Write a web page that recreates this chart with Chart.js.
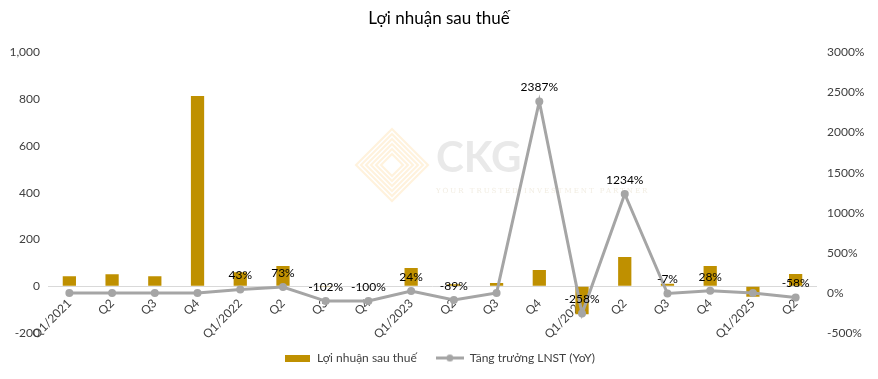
<!DOCTYPE html>
<html>
<head>
<meta charset="utf-8">
<script src="https://cdn.jsdelivr.net/npm/chart.js@4/dist/chart.umd.min.js"></script>
<style>
  html, body { margin:0; padding:0; background:#fff; }
  #wrap { width:878px; height:379px; }
</style>
</head>
<body>
<div id="wrap"><canvas id="myChart"></canvas></div>
<script>
var quarters = ['Q1/2021','Q2','Q3','Q4','Q1/2022','Q2','Q3','Q4','Q1/2023','Q2','Q3','Q4','Q1/2024','Q2','Q3','Q4','Q1/2025','Q2'];
var profit = [43, 51, 43, 814, 60, 86, -1, 2, 78, 8, 14, 69, -120, 125, 11, 86, -45, 52];
var growth = [0, 0, 0, 0, 43, 73, -102, -100, 24, -89, 0, 2387, -258, 1234, -7, 28, 0, -58];
var growthLabels = [null, null, null, null, '43%', '73%', '-102%', '-100%', '24%', '-89%', null, '2387%', '-258%', '1234%', '-7%', '28%', null, '-58%'];

var gold = '#BF9000';
var grey = '#A5A5A5';
var fontName = 'Lato, "Open Sans", sans-serif';

// legend markers
function markerBar(){
	var c = document.createElement('canvas'); c.width = 25; c.height = 7;
	var g = c.getContext('2d'); g.fillStyle = gold; g.fillRect(0,0,25,7);
	return c;
}
function markerLine(){
	var c = document.createElement('canvas'); c.width = 28; c.height = 9;
	var g = c.getContext('2d');
	g.strokeStyle = grey; g.lineWidth = 3;
	g.beginPath(); g.moveTo(0,4.5); g.lineTo(28,4.5); g.stroke();
	g.fillStyle = grey; g.beginPath(); g.arc(14,4.5,3.5,0,Math.PI*2); g.fill();
	return c;
}

var pointLabels = {
	id:'pointLabels',
	afterDatasetsDraw:function(chart){
		var meta = chart.getDatasetMeta(1);
		var ctx = chart.ctx;
		ctx.save();
		ctx.font = '12px ' + fontName;
		ctx.fillStyle = '#000';
		ctx.textAlign = 'center';
		ctx.textBaseline = 'middle';
		meta.data.forEach(function(pt, i){
			if(growthLabels[i]) ctx.fillText(growthLabels[i], pt.x, pt.y - 14);
		});
		ctx.restore();
	}
};

var watermark = {
	id:'watermark',
	beforeDatasetsDraw:function(chart){
		var ctx = chart.ctx;
		ctx.save();
		// faint diamond logo
		ctx.strokeStyle = 'rgba(255,210,130,0.28)';
		ctx.lineWidth = 2;
		for(var k=0;k<6;k++){
			var s = 36 - k*5;
			ctx.beginPath();
			ctx.moveTo(392, 165 - s); ctx.lineTo(392 + s, 165); ctx.lineTo(392, 165 + s); ctx.lineTo(392 - s, 165); ctx.closePath();
			ctx.stroke();
		}
		ctx.fillStyle = 'rgba(200,200,200,0.4)';
		ctx.font = 'bold 42px ' + fontName;
		ctx.textBaseline = 'middle';
		ctx.fillText('CKG', 436, 158);
		ctx.fillStyle = 'rgba(230,220,200,0.55)';
		ctx.font = '7px "DejaVu Serif", serif';
		ctx.letterSpacing = '2px';
		ctx.fillText('YOUR TRUSTED INVESTMENT PARTNER', 436, 191);
		ctx.restore();
	}
};

var ctx = document.getElementById('myChart');
new Chart(ctx, {
	type:'bar',
	data:{
		labels:quarters,
		datasets:[
			{
				type:'bar',
				label:'Lợi nhuận sau thuế',
				data:profit,
				backgroundColor:gold,
				yAxisID:'y',
				order:1,
				barPercentage:0.31,
				categoryPercentage:1
			},
			{
				type:'line',
				label:'Tăng trưởng LNST (YoY)',
				data:growth,
				borderColor:grey,
				backgroundColor:grey,
				borderWidth:3,
				pointRadius:4,
				pointBackgroundColor:grey,
				pointBorderWidth:0,
				tension:0,
				yAxisID:'y1',
				order:0
			}
		]
	},
	options:{
		responsive:true,
		maintainAspectRatio:false,
		animation:false,
		layout:{ padding:{ top:0, bottom:5, left:0, right:0 } },
		plugins:{
			title:{
				display:true,
				text:'Lợi nhuận sau thuế',
				color:'#000',
				font:{ family:fontName, size:17, weight:'normal' },
				padding:{ top:8, bottom:24 }
			},
			legend:{
				position:'bottom',
				labels:{
					usePointStyle:true,
					pointStyleWidth:28,
					color:'#404040',
					font:{ family:fontName, size:12 },
					padding:19,
					generateLabels:function(chart){
						var items = Chart.defaults.plugins.legend.labels.generateLabels(chart);
						items.forEach(function(it){
							it.pointStyle = it.datasetIndex === 0 ? markerBar() : markerLine();
						});
						items.sort(function(a,b){ return a.datasetIndex - b.datasetIndex; });
						return items;
					}
				}
			},
			tooltip:{ enabled:false }
		},
		scales:{
			x:{
				position:{ y:0 },
				grid:{ display:false },
				border:{ display:false },
				ticks:{
					color:'#404040',
					font:{ family:fontName, size:12 },
					minRotation:45,
					maxRotation:45,
					autoSkip:false,
					padding:2
				}
			},
			y:{
				position:'left',
				min:-200,
				max:1000,
				border:{ display:false },
				grid:{
					drawTicks:false,
					color:function(c){ return c.tick && c.tick.value === 0 ? '#D9D9D9' : 'rgba(0,0,0,0)'; }
				},
				ticks:{
					stepSize:200,
					color:'#404040',
					padding:8,
					font:{ family:fontName, size:12 },
					callback:function(v){ return v.toLocaleString('en-US'); }
				},
				afterFit:function(axis){ axis.width = 48; }
			},
			y1:{
				position:'right',
				min:-500,
				max:3000,
				border:{ display:false },
				grid:{ display:false, drawTicks:false },
				ticks:{
					stepSize:500,
					color:'#404040',
					padding:10,
					font:{ family:fontName, size:12 },
					callback:function(v){ return v + '%'; }
				},
				afterFit:function(axis){ axis.width = 61; }
			}
		}
	},
	plugins:[watermark, pointLabels]
});
</script>
</body>
</html>
